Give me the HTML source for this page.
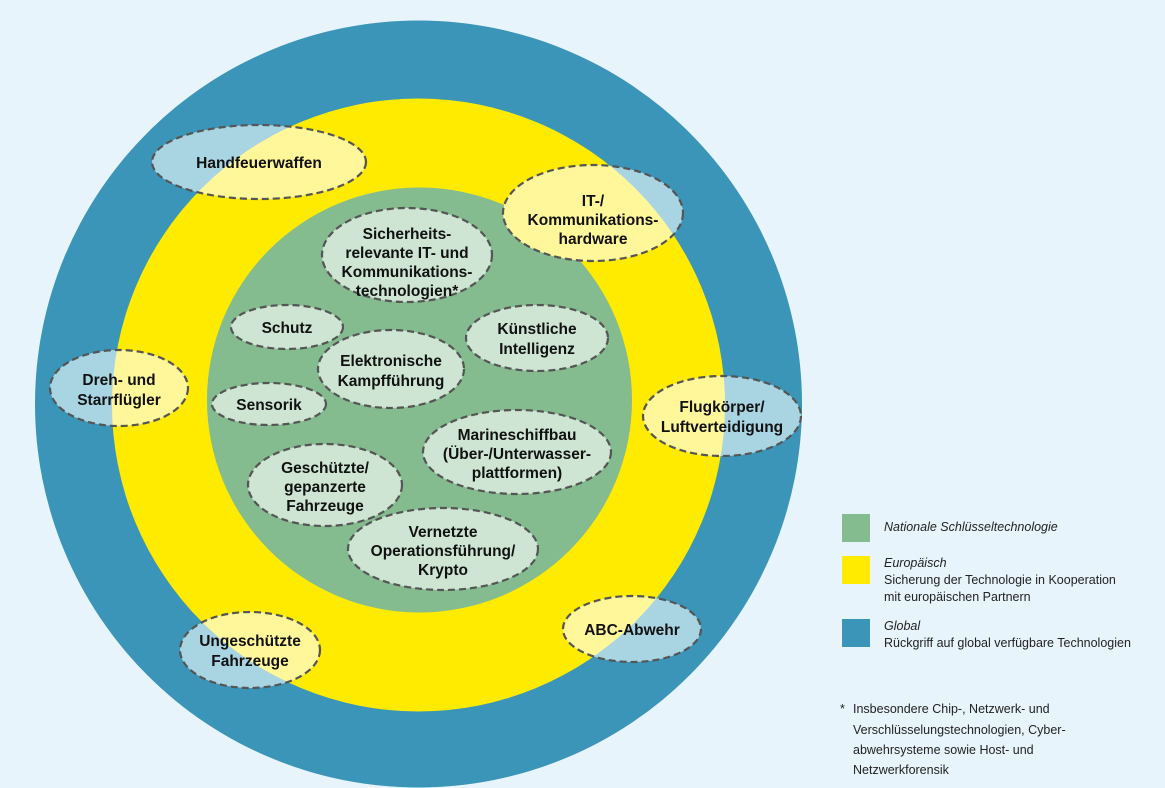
<!DOCTYPE html>
<html><head><meta charset="utf-8"><style>
body{margin:0;background:#e8f4fc;}
svg{display:block}
.t{font-family:"Liberation Sans",sans-serif;font-weight:bold;font-size:15.5px;fill:#111;text-anchor:middle}
.l{font-family:"Liberation Sans",sans-serif;font-size:12.5px;fill:#222}
.i{font-style:italic}
</style></head><body>
<svg width="1165" height="788" viewBox="0 0 1165 788" xmlns="http://www.w3.org/2000/svg">
<defs>
<clipPath id="cy"><circle cx="418.5" cy="405" r="306.5"/></clipPath>
</defs>
<rect width="1165" height="788" fill="#e8f4fc"/>
<circle cx="418.5" cy="404" r="383.5" fill="#3a95b8"/>
<circle cx="418.5" cy="405" r="306.5" fill="#ffeb00"/>
<circle cx="419.5" cy="400" r="212.5" fill="#84bb8f"/>
<g id="mixed">
<g fill="#a9d4e2">
<ellipse cx="259" cy="162" rx="107" ry="37"/>
<ellipse cx="593" cy="213" rx="90" ry="48"/>
<ellipse cx="119" cy="388" rx="69" ry="38"/>
<ellipse cx="722" cy="416" rx="79" ry="40"/>
<ellipse cx="632" cy="629" rx="69" ry="33"/>
<ellipse cx="250" cy="650" rx="70" ry="38"/>
</g>
<g fill="#fff799" clip-path="url(#cy)">
<ellipse cx="259" cy="162" rx="107" ry="37"/>
<ellipse cx="593" cy="213" rx="90" ry="48"/>
<ellipse cx="119" cy="388" rx="69" ry="38"/>
<ellipse cx="722" cy="416" rx="79" ry="40"/>
<ellipse cx="632" cy="629" rx="69" ry="33"/>
<ellipse cx="250" cy="650" rx="70" ry="38"/>
</g>
</g>
<g fill="#cde5d2">
<ellipse cx="407" cy="255" rx="85" ry="47"/>
<ellipse cx="287" cy="327" rx="56" ry="22"/>
<ellipse cx="537" cy="338" rx="71" ry="33"/>
<ellipse cx="391" cy="369" rx="73" ry="39"/>
<ellipse cx="269" cy="404" rx="57" ry="21"/>
<ellipse cx="517" cy="452" rx="94" ry="42"/>
<ellipse cx="325" cy="485" rx="77" ry="41"/>
<ellipse cx="443" cy="549" rx="95" ry="41"/>
</g>
<g fill="none" stroke="#555" stroke-width="2.2" stroke-dasharray="7,4">
<ellipse cx="259" cy="162" rx="107" ry="37"/>
<ellipse cx="593" cy="213" rx="90" ry="48"/>
<ellipse cx="119" cy="388" rx="69" ry="38"/>
<ellipse cx="722" cy="416" rx="79" ry="40"/>
<ellipse cx="632" cy="629" rx="69" ry="33"/>
<ellipse cx="250" cy="650" rx="70" ry="38"/>
<ellipse cx="407" cy="255" rx="85" ry="47"/>
<ellipse cx="287" cy="327" rx="56" ry="22"/>
<ellipse cx="537" cy="338" rx="71" ry="33"/>
<ellipse cx="391" cy="369" rx="73" ry="39"/>
<ellipse cx="269" cy="404" rx="57" ry="21"/>
<ellipse cx="517" cy="452" rx="94" ry="42"/>
<ellipse cx="325" cy="485" rx="77" ry="41"/>
<ellipse cx="443" cy="549" rx="95" ry="41"/>
</g>
<g class="t">
<text x="259" y="168">Handfeuerwaffen</text>
<text x="593" y="206">IT-/</text><text x="593" y="225">Kommunikations-</text><text x="593" y="244">hardware</text>
<text x="407" y="239">Sicherheits-</text><text x="407" y="258">relevante IT- und</text><text x="407" y="277">Kommunikations-</text><text x="407" y="296">technologien*</text>
<text x="287" y="333">Schutz</text>
<text x="537" y="334">Künstliche</text><text x="537" y="354">Intelligenz</text>
<text x="391" y="366">Elektronische</text><text x="391" y="386">Kampfführung</text>
<text x="269" y="410">Sensorik</text>
<text x="119" y="385">Dreh- und</text><text x="119" y="405">Starrflügler</text>
<text x="722" y="412">Flugkörper/</text><text x="722" y="432">Luftverteidigung</text>
<text x="517" y="440">Marineschiffbau</text><text x="517" y="459">(Über-/Unterwasser-</text><text x="517" y="478">plattformen)</text>
<text x="325" y="473">Geschützte/</text><text x="325" y="492">gepanzerte</text><text x="325" y="511">Fahrzeuge</text>
<text x="443" y="537">Vernetzte</text><text x="443" y="556">Operationsführung/</text><text x="443" y="575">Krypto</text>
<text x="632" y="635">ABC-Abwehr</text>
<text x="250" y="646">Ungeschützte</text><text x="250" y="666">Fahrzeuge</text>
</g>
<rect x="842" y="514" width="28" height="28" fill="#84bb8f"/>
<rect x="842" y="556" width="28" height="28" fill="#ffeb00"/>
<rect x="842" y="619" width="28" height="28" fill="#3a95b8"/>
<text class="l i" x="884" y="531">Nationale Schlüsseltechnologie</text>
<text class="l i" x="884" y="567">Europäisch</text>
<text class="l" x="884" y="584">Sicherung der Technologie in Kooperation</text>
<text class="l" x="884" y="601">mit europäischen Partnern</text>
<text class="l i" x="884" y="630">Global</text>
<text class="l" x="884" y="647">Rückgriff auf global verfügbare Technologien</text>
<text class="l" x="840" y="713">*</text>
<text class="l" x="853" y="713">Insbesondere Chip-, Netzwerk- und</text>
<text class="l" x="853" y="734">Verschlüsselungstechnologien, Cyber-</text>
<text class="l" x="853" y="754">abwehrsysteme sowie Host- und</text>
<text class="l" x="853" y="774">Netzwerkforensik</text>
</svg>
</body></html>
